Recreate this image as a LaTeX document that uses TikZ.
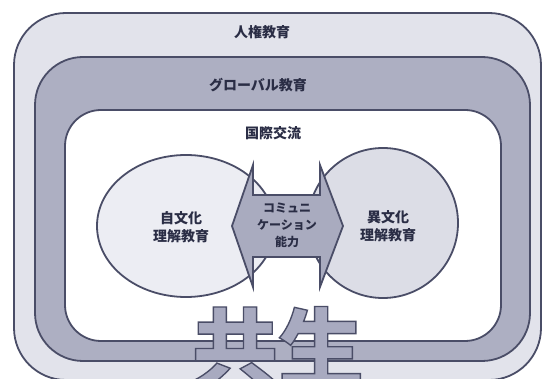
\documentclass[tikz,border=0pt]{standalone}
\usepackage{fontspec}
\newfontfamily\jp{Noto Sans CJK JP}
\newfontfamily\bigjp{Noto Sans CJK JP}[BoldFeatures={FakeBold=1.6}]
\definecolor{lineC}{HTML}{4A4D67}
\definecolor{outerC}{HTML}{E2E3EB}
\definecolor{globalC}{HTML}{ADAFC2}
\definecolor{leftC}{HTML}{ECEDF3}
\definecolor{rightC}{HTML}{DCDDE6}
\definecolor{arrowC}{HTML}{A9ABBF}
\definecolor{txtC}{HTML}{2A2D45}
\definecolor{bigC}{HTML}{A8AAC0}
\tikzset{
  frame/.style={draw=lineC, line width=1.8pt},
  lbl/.style={text=txtC, font=\jp\bfseries\fontsize{14}{18}\selectfont, align=center, inner sep=0pt},
  smalllbl/.style={text=txtC, font=\jp\bfseries\fontsize{12}{17}\selectfont, align=center, inner sep=0pt},
  bigtxt/.style={font=\bigjp\bfseries\fontsize{86}{86}\selectfont, inner sep=0pt, anchor=base}
}
\begin{document}
\begin{tikzpicture}[x=1pt,y=-1pt]
\useasboundingbox (0,0) rectangle (544,379);
\begin{scope}
\clip (0,0) rectangle (544,379);
\fill[white] (0,0) rectangle (544,379);
% frames
\draw[frame, fill=outerC, rounded corners=52pt] (14,13) rectangle (541,380);
\draw[frame, fill=globalC, rounded corners=48pt] (35,57) rectangle (530,361);
\draw[frame, fill=white, rounded corners=36pt] (65,110) rectangle (501,341);
% ellipses
\draw[frame, fill=leftC] (186,226) ellipse [x radius=89, y radius=71];
\draw[frame, fill=rightC] (383,223) ellipse [x radius=75, y radius=75];
% double arrow
\draw[frame, fill=arrowC, line join=miter]
  (232,226) -- (253,165) -- (253,195) -- (320,195) -- (320,165) -- (343,226)
  -- (320,287) -- (320,257) -- (253,257) -- (253,287) -- cycle;
% labels
\node[lbl] (jinken) at (262,32) {人権教育};
\node[lbl] (global) at (258,85) {グローバル教育};
\node[lbl] (kokusai) at (273,133) {国際交流};
\node[lbl] (jibunka) at (181,227) {自文化\\理解教育};
\node[lbl] (ibunka) at (388,226) {異文化\\理解教育};
\node[smalllbl] (comm) at (287,225) {コミュニ\\ケーション\\能力};
% big outlined text
\node[bigtxt, text=bigC] (kyosei) at (278,380) {\special{pdf:code 0.29 0.302 0.404 RG}共生};
\end{scope}
\end{tikzpicture}
\end{document}
